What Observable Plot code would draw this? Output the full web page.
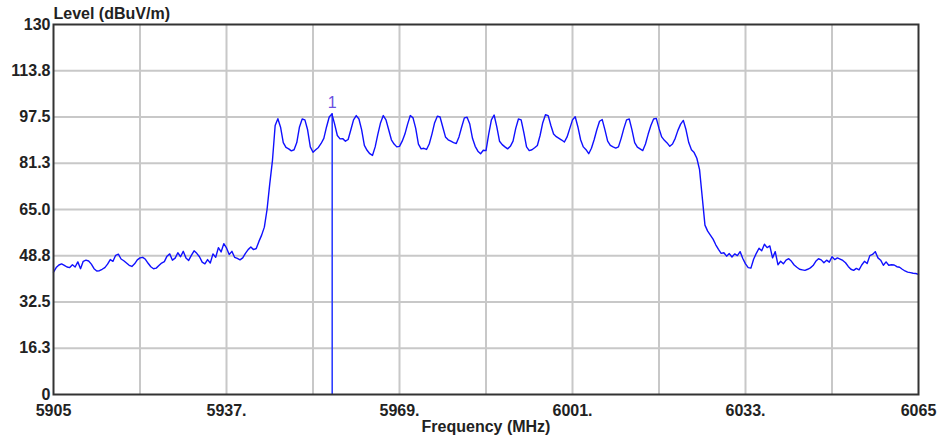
<!DOCTYPE html>
<html>
<head>
<meta charset="utf-8">
<script src="https://cdn.jsdelivr.net/npm/d3@7"></script>
<script src="https://cdn.jsdelivr.net/npm/@observablehq/plot@0.6"></script>
<style>
  html, body { margin: 0; padding: 0; background: #ffffff; }
  #chart svg { display: block; }
</style>
</head>
<body>
<div id="chart"></div>
<script>
// Sweep: start frequency and spacing of the analyzer points (MHz)
const startMHz = 5905;
const stepMHz = 0.5;

const levels = [
  43.0,44.6,45.5,45.9,45.4,44.8,44.6,45.6,44.8,46.6,
  44.2,46.8,47.2,46.9,45.8,44.2,43.4,43.5,44.0,44.6,
  45.8,47.4,46.8,48.9,49.3,47.6,47.0,46.2,45.4,45.0,
  45.9,47.3,48.0,48.2,47.5,46.1,44.9,44.2,44.4,45.3,
  46.2,46.7,48.6,49.4,47.2,47.9,49.8,48.4,50.3,48.0,
  47.1,48.9,50.5,49.6,48.4,46.5,45.9,47.4,46.2,49.4,
  48.2,51.6,50.1,53.0,51.5,49.2,50.3,48.2,47.8,47.3,
  48.0,49.6,50.9,51.8,50.9,51.3,53.8,56.0,58.8,65.0,
  74.0,82.2,94.5,96.9,93.9,88.5,86.8,86.3,85.6,86.0,
  88.5,94.0,96.8,96.5,93.0,87.0,85.1,86.0,86.8,88.2,
  90.0,94.0,97.5,98.6,95.0,91.0,89.8,89.9,89.0,89.6,
  93.0,96.5,98.0,96.8,93.0,87.5,85.8,84.6,84.0,87.0,
  91.5,95.5,98.0,96.5,93.0,89.5,88.0,87.0,87.2,89.0,
  91.5,95.0,98.0,97.2,93.5,88.0,86.3,86.5,86.1,88.0,
  91.5,95.5,97.8,97.5,94.0,90.5,89.5,89.0,88.5,88.2,
  90.5,94.0,97.2,97.4,95.0,90.0,87.2,85.5,84.6,85.8,
  85.7,91.5,96.5,98.2,94.0,89.0,87.8,87.0,86.3,87.2,
  89.0,93.5,96.8,96.5,92.0,87.0,85.7,86.0,86.7,87.5,
  91.0,95.5,98.3,98.0,94.5,91.5,90.6,90.0,89.4,88.7,
  90.5,93.5,96.5,97.6,94.0,89.5,87.0,86.0,84.6,86.5,
  89.5,93.0,96.0,96.6,93.0,89.0,87.5,87.0,86.6,87.0,
  90.0,93.5,96.5,96.8,93.0,88.5,86.9,86.3,85.7,88.0,
  91.5,94.5,96.8,97.0,93.5,90.5,89.3,88.4,87.2,88.0,
  90.0,92.8,95.0,96.3,93.0,88.5,86.0,85.0,83.0,79.0,
  69.3,59.5,57.4,56.0,54.6,52.6,51.0,49.6,49.8,48.6,
  49.5,48.3,49.4,48.8,50.2,47.8,45.9,44.6,44.4,47.5,
  49.6,51.4,50.5,52.8,51.6,52.2,48.0,50.2,45.6,46.8,
  45.9,47.2,47.7,46.8,45.5,44.7,44.0,43.8,43.6,44.0,
  44.5,45.3,46.8,47.7,47.3,46.3,47.2,46.5,48.4,47.4,
  48.0,47.6,47.1,46.3,45.0,44.0,43.6,44.3,43.8,45.5,
  46.8,46.0,48.8,49.2,50.2,48.0,47.2,45.4,46.6,45.4,
  45.6,45.5,44.9,44.7,44.0,43.4,43.0,42.8,42.6,42.5,
  42.2
];

// Marker 1
const markerFreq = [5956.55];
const markerLevel = [98.6];
const markerLabel = ["1"];

// Axes
const xDomain = [5905, 6065];
const yDomain = [0, 130];
const xTickValues = [5905, 5937, 5969, 6001, 6033, 6065];
const xTickLabels = ["5905", "5937.", "5969.", "6001.", "6033.", "6065"];
const xGridValues = [5921, 5937, 5953, 5969, 5985, 6001, 6017, 6033, 6049];
const yTickValues = [0, 16.25, 32.5, 48.75, 65, 81.25, 97.5, 113.75, 130];
const yTickLabels = ["0", "16.3", "32.5", "48.8", "65.0", "81.3", "97.5", "113.8", "130"];
const yGridValues = [16.25, 32.5, 48.75, 65, 81.25, 97.5, 113.75];
const xTitle = "Frequency (MHz)";
const yTitle = "Level (dBuV/m)";

const trace = levels.map((v, i) => ({ f: startMHz + i * stepMHz, level: v }));
const markers = markerFreq.map((f, i) => ({ f, level: markerLevel[i], label: markerLabel[i] }));

const chart = Plot.plot({
  width: 941,
  height: 443,
  marginLeft: 53,
  marginRight: 23,
  marginTop: 24,
  marginBottom: 49,
  style: { fontFamily: "'Liberation Sans', Arial, sans-serif", background: "#ffffff", color: "#222" },
  x: { domain: xDomain, nice: false },
  y: { domain: yDomain, nice: false },
  marks: [
    Plot.gridX(xGridValues, { stroke: "#c8c8c8", strokeOpacity: 1, strokeWidth: 2 }),
    Plot.gridY(yGridValues, { stroke: "#c8c8c8", strokeOpacity: 1, strokeWidth: 2 }),
    Plot.axisX({
      ticks: xTickValues, tickSize: 0, tickPadding: 10, label: null,
      tickFormat: d => xTickLabels[xTickValues.indexOf(d)],
      fontSize: 16, fontWeight: "bold", fill: "#222"
    }),
    Plot.axisY({
      ticks: yTickValues, tickSize: 0, tickPadding: 3, label: null,
      tickFormat: d => yTickLabels[yTickValues.indexOf(d)],
      fontSize: 16, fontWeight: "bold", fill: "#222"
    }),
    Plot.ruleX(markers, { x: "f", y1: 0, y2: "level", stroke: "#2233ff", strokeWidth: 1.5 }),
    Plot.line(trace, { x: "f", y: "level", stroke: "#1010ff", strokeWidth: 1.4 }),
    Plot.text(markers, { x: "f", y: "level", text: "label", dy: -6, dx: 0, fill: "#6a50e0", fontSize: 16, lineAnchor: "bottom" }),
    Plot.frame({ stroke: "#333", strokeWidth: 2 }),
    Plot.text([yTitle], { frameAnchor: "top-left", dy: -6, textAnchor: "start", lineAnchor: "bottom", fontSize: 16, fontWeight: "bold", fill: "#222" }),
    Plot.text([xTitle], { frameAnchor: "bottom", dy: 37, lineAnchor: "bottom", fontSize: 16, fontWeight: "bold", fill: "#222" })
  ]
});

document.getElementById("chart").appendChild(chart);
</script>
</body>
</html>
